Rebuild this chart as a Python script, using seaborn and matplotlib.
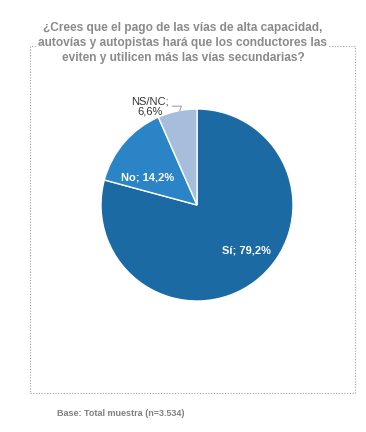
import matplotlib
matplotlib.use("Agg")
import matplotlib.pyplot as plt
import seaborn as sns
from matplotlib.patches import Rectangle

# Data
labels = ["Sí", "No", "NS/NC"]
values = [79.2, 14.2, 6.6]
colors = ["#1c6aa3", "#2b84c5", "#a7bddc"]

sns.set_style("white")
plt.rcParams["font.family"] = ["Liberation Sans", "DejaVu Sans"]

fig = plt.figure(figsize=(3.66, 4.32), dpi=100)

# dotted frame
frame = Rectangle((30 / 366, 1 - 393 / 432), 325 / 366, 347 / 432,
                  transform=fig.transFigure, fill=False,
                  edgecolor="#a0a0a0", linestyle=(0, (1, 1.5)), linewidth=0.8)
fig.patches.append(frame)

# title
fig.text(0.5, 1 - 43 / 432,
         "¿Crees que el pago de las vías de alta capacidad,\n"
         "autovías y autopistas hará que los conductores las\n"
         "eviten y utilicen más las vías secundarias?",
         ha="center", va="center", fontsize=8.6, fontweight="bold",
         color="#8a8a8a", linespacing=1.3,
         bbox=dict(facecolor="white", edgecolor="none", pad=1))

# pie
ax = fig.add_axes([(197 - 96) / 366, 1 - (205 + 96) / 432, 192 / 366, 192 / 432])
wedges, _ = ax.pie(values, colors=colors, startangle=90, counterclock=False,
                   radius=1, wedgeprops=dict(edgecolor="white", linewidth=1))
ax.set_xlim(-1, 1)
ax.set_ylim(-1, 1)
ax.set_aspect("equal")
ax.axis("off")

ax.text(0.52, -0.47, f"{labels[0]}; {values[0]:.1f}%".replace(".", ","),
        ha="center", va="center", color="white", fontsize=8, fontweight="bold")
ax.text(-0.52, 0.29, f"{labels[1]}; {values[1]:.1f}%".replace(".", ","),
        ha="center", va="center", color="white", fontsize=8, fontweight="bold")
ax.annotate(f"{labels[2]};\n{values[2]:.1f}%".replace(".", ","),
            xy=(-0.18, 0.98), xytext=(-0.49, 1.03),
            ha="center", va="center", color="#333333", fontsize=8,
            linespacing=1.0, annotation_clip=False,
            arrowprops=dict(arrowstyle="-", color="#999999", lw=0.7,
                            shrinkA=0, shrinkB=0,
                            connectionstyle="angle,angleA=0,angleB=70"))

# footer
fig.text(57 / 366, 1 - 413 / 432, "Base: Total muestra (n=3.534)",
         ha="left", va="center", fontsize=6.5, fontweight="bold", color="#808080")

fig.savefig("out.png", dpi=100)
